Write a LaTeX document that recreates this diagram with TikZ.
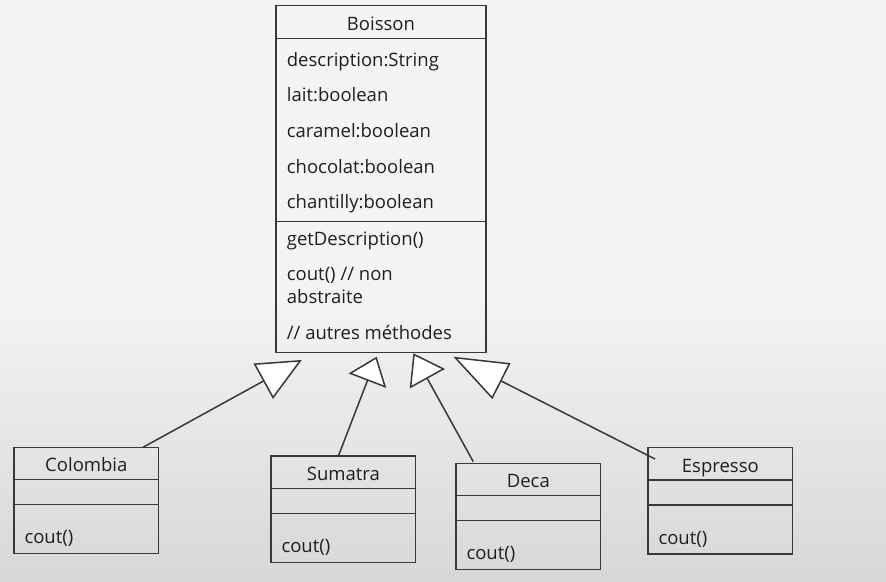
\documentclass[tikz,border=0pt]{standalone}
\usepackage{fontspec}
\setmainfont{Open Sans}
\usepackage{xcolor}
\usepackage{tikz}
\usetikzlibrary{arrows.meta,positioning,calc}

\definecolor{umlgray}{HTML}{383838}
\definecolor{bgtop}{HTML}{F4F4F6}
\definecolor{bgbot}{HTML}{D7D7D7}

\tikzset{
  classbox/.style={draw=umlgray,line width=1.5pt,inner sep=0pt,outer sep=0pt},
  sepline/.style={draw=umlgray,line width=1.5pt},
  member/.style={anchor=base west,inner sep=0pt,text=black!88,font=\fontsize{18.5pt}{23.3pt}\selectfont},
  classname/.style={anchor=base,inner sep=0pt,text=black!88,font=\fontsize{18.5pt}{23.3pt}\selectfont},
  inherit/.style={draw=umlgray,line width=1.5pt,-{Triangle[fill=white,width=40pt,length=#1]}},
}

\begin{document}
\begin{tikzpicture}[x=1pt,y=-1pt,>=Latex]
  \useasboundingbox (0,0) rectangle (886,581);
  % background
  \fill[bgtop] (0,0) rectangle (886,301);
  \shade[top color=bgtop,bottom color=bgbot] (0,300) rectangle (886,581);

  % superclass
  \node[classbox,anchor=north west,minimum width=210pt,minimum height=347.2pt] (boisson) at (276,5.5) {};
  \draw[sepline] ($(boisson.north west)+(0,32.8)$) -- ($(boisson.north east)+(0,32.8)$);
  \draw[sepline] ($(boisson.north west)+(0,216.2)$) -- ($(boisson.north east)+(0,216.2)$);
  \node[classname] (boisson-title) at ($(boisson.north)+(0,25.2)$) {Boisson};
  \foreach \id/\y/\txt in {desc/61.4/description:String, lait/96.4/lait:boolean,
      caramel/132/caramel:boolean, chocolat/168/chocolat:boolean, chantilly/203/chantilly:boolean}
    \node[member] (attr-\id) at ($(boisson.north west)+(10.7,\y)$) {\txt};
  \node[member] (meth-getdesc) at ($(boisson.north west)+(10.7,239.7)$) {getDescription()};
  \node[member,align=left] (meth-cout) at ($(boisson.north west)+(10.7,297.8)$) {cout() // non\\abstraite};
  \node[member] (meth-autres) at ($(boisson.north west)+(10.7,334)$) {// autres méthodes};

  % subclasses
  \foreach \name/\x/\y/\txt in {colombia/14/447.3/Colombia, sumatra/271/456.2/Sumatra,
      deca/456/463.3/Deca, espresso/648/447.7/Espresso} {
    \node[classbox,anchor=north west,minimum width=144.7pt,minimum height=106.3pt] (\name) at (\x,\y) {};
    \draw[sepline] ($(\name.north west)+(0,32.4)$) -- ($(\name.north east)+(0,32.4)$);
    \draw[sepline] ($(\name.north west)+(0,57.3)$) -- ($(\name.north east)+(0,57.3)$);
    \node[classname] (\name-title) at ($(\name.north)+(0,24.6)$) {\txt};
    \node[member] (\name-cout) at ($(\name.north west)+(10.3,96.3)$) {cout()};
  }

  % generalisations
  \draw[inherit=44pt,shorten >=15.1pt] ($(colombia.north west)+(129,0)$) -- ($(boisson.south west)+(39,0)$);
  \draw[inherit=25.7pt,shorten >=4.3pt] ($(sumatra.north west)+(67.3,0)$) -- ($(boisson.south west)+(102.2,0)$);
  \draw[inherit=29pt,shorten >=0.7pt] ($(deca.north west)+(17.3,-1.6)$) -- ($(boisson.south west)+(137,0)$);
  \draw[inherit=54pt,shorten >=8.9pt] ($(espresso.north west)+(7,11.3)$) -- ($(boisson.south west)+(169.4,0)$);
\end{tikzpicture}
\end{document}
